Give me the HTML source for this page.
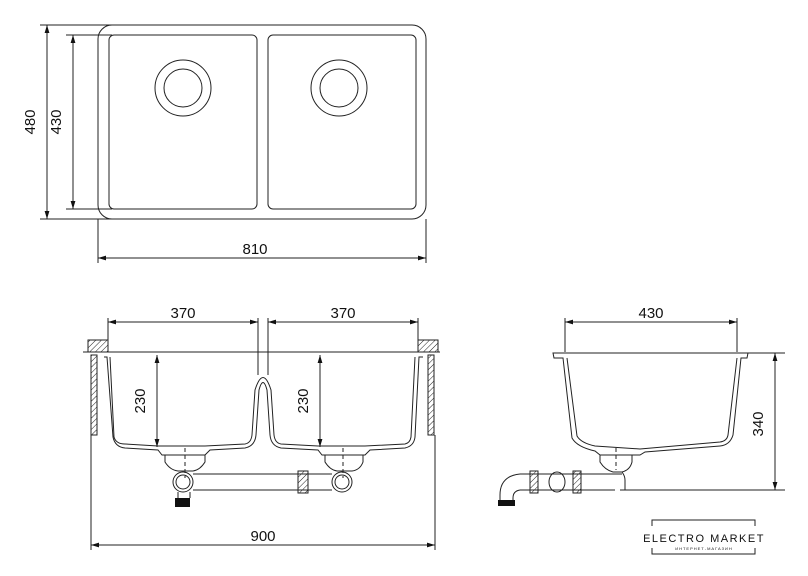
<!DOCTYPE html>
<html><head><meta charset="utf-8"><style>
html,body{margin:0;padding:0;background:#fff}
svg{display:block}
text{font-family:"Liberation Sans",sans-serif;fill:#111}
</style></head><body>
<svg width="808" height="576" viewBox="0 0 808 576" xmlns="http://www.w3.org/2000/svg">
<defs>
<pattern id="h" width="4" height="4" patternUnits="userSpaceOnUse" patternTransform="rotate(45)">
<line x1="0" y1="0" x2="0" y2="4" stroke="#222" stroke-width="1"/></pattern>
<marker id="a" viewBox="0 0 10 10" refX="10" refY="5" markerWidth="8" markerHeight="8" orient="auto-start-reverse"><path d="M0,2 L10,5 L0,8z" fill="#111"/></marker>
</defs>
<g fill="none" stroke="#222" stroke-width="1">
<!-- top view -->
<rect x="98" y="25" width="328" height="194" rx="14"/>
<rect x="109" y="35" width="148" height="174" rx="5"/>
<rect x="268" y="35" width="148" height="174" rx="5"/>
<circle cx="183" cy="88" r="28"/><circle cx="183" cy="88" r="19"/>
<circle cx="339" cy="88" r="28"/><circle cx="339" cy="88" r="19"/>
<line x1="40" y1="25" x2="112" y2="25"/><line x1="40" y1="219" x2="112" y2="219"/>
<line x1="66" y1="35" x2="112" y2="35"/><line x1="66" y1="209" x2="112" y2="209"/>
<line x1="47" y1="25" x2="47" y2="219" marker-start="url(#a)" marker-end="url(#a)"/>
<line x1="73" y1="35" x2="73" y2="209" marker-start="url(#a)" marker-end="url(#a)"/>
<line x1="98" y1="219" x2="98" y2="263"/><line x1="426" y1="219" x2="426" y2="263"/>
<line x1="98" y1="258" x2="426" y2="258" marker-start="url(#a)" marker-end="url(#a)"/>

<!-- front view -->
<line x1="83" y1="352" x2="440" y2="352"/>
<rect x="88" y="340" width="20" height="12" fill="url(#h)"/>
<rect x="418" y="340" width="20" height="12" fill="url(#h)"/>
<rect x="91" y="355" width="6" height="80" fill="url(#h)"/>
<rect x="428" y="355" width="6" height="80" fill="url(#h)"/>
<line x1="91" y1="435" x2="91" y2="550"/><line x1="435" y1="435" x2="435" y2="550"/>
<line x1="91" y1="545" x2="435" y2="545" marker-start="url(#a)" marker-end="url(#a)"/>
<line x1="108" y1="318" x2="108" y2="352"/><line x1="258" y1="318" x2="258" y2="375"/>
<line x1="268" y1="318" x2="268" y2="375"/><line x1="418" y1="318" x2="418" y2="352"/>
<line x1="108" y1="322" x2="258" y2="322" marker-start="url(#a)" marker-end="url(#a)"/>
<line x1="268" y1="322" x2="418" y2="322" marker-start="url(#a)" marker-end="url(#a)"/>
<path d="M104,357 L107,357 L113,437 Q115,447 125,448 L158,450 L162,455 L205,455 L210,450 L245,448 Q255,446 256,435 L259,390 Q263,375 267,390 L270,435 Q271,446 281,448 L318,450 L322,455 L365,455 L370,450 L405,448 Q414,446 415,437 L419,357 L423,357"/>
<path d="M110,357 L114,437 Q116,444 125,444 L158,446 L205,446 L245,444 Q251,443 252,435 L255,390 Q263,365 271,390 L274,435 Q275,443 281,444 L318,446 L365,446 L405,444 Q410,443 411,437 L415,357"/>
<line x1="157" y1="355" x2="157" y2="447" marker-start="url(#a)" marker-end="url(#a)"/>
<line x1="320" y1="355" x2="320" y2="447" marker-start="url(#a)" marker-end="url(#a)"/>
<path d="M165,455 L165,462 Q170,470 178,471 L193,471 Q200,470 205,462 L205,455"/>
<path d="M325,455 L325,462 Q330,470 337,471 L352,471 Q360,470 363,462 L363,455"/>
<circle cx="183" cy="482" r="10"/><circle cx="183" cy="482" r="7"/>
<circle cx="342" cy="482" r="10"/><circle cx="342" cy="482" r="7"/>
<line x1="193" y1="474" x2="332" y2="474"/><line x1="193" y1="490" x2="332" y2="490"/>
<rect x="298" y="471" width="10" height="22" fill="url(#h)"/>
<line x1="178" y1="492" x2="178" y2="498"/><line x1="190" y1="492" x2="190" y2="498"/>
<line x1="185" y1="448" x2="185" y2="478" stroke-dasharray="4,3"/>
<line x1="343" y1="448" x2="343" y2="478" stroke-dasharray="4,3"/>

<!-- side view -->
<line x1="565" y1="318" x2="565" y2="352"/><line x1="737" y1="318" x2="737" y2="352"/>
<line x1="565" y1="322" x2="737" y2="322" marker-start="url(#a)" marker-end="url(#a)"/>
<path d="M553,353 L748,353 L747,358 L741,358 L733,435 Q730,445 720,446 L645,452 L640,455 L600,455 L595,451 Q577,447 572,438 L563,358 L554,358 Z"/>
<path d="M567,358 L577,436 Q581,443 595,446 L640,449 L720,442 Q727,441 728,435 L737,358"/>
<line x1="740" y1="353" x2="785" y2="353"/><line x1="620" y1="490" x2="785" y2="490"/>
<line x1="775" y1="353" x2="775" y2="490" marker-start="url(#a)" marker-end="url(#a)"/>
<path d="M600,455 L600,462 Q605,470 613,472 L622,472 Q630,470 632,462 L632,455"/>
<line x1="616" y1="448" x2="616" y2="470" stroke-dasharray="4,3"/>
<path d="M622,472 Q625,476 625,480 L625,490"/>
<path d="M520,474 L622,474"/><path d="M520,490 L615,490"/>
<path d="M520,474 Q500,476 500,495 L500,502"/><path d="M520,490 Q513,491 513,498 L513,502"/>
<rect x="530" y="471" width="8" height="22" fill="url(#h)"/>
<rect x="573" y="471" width="8" height="22" fill="url(#h)"/>
<ellipse cx="557" cy="482" rx="8" ry="10"/>
<rect x="652" y="520" width="103" height="34" fill="#fff"/>
</g>
<rect x="175" y="498" width="15" height="9" fill="#111"/>
<rect x="498" y="500" width="17" height="6" fill="#111"/>
<rect x="650" y="526" width="108" height="22" fill="#fff"/>
<text x="35" y="122" font-size="15" text-anchor="middle" transform="rotate(-90 35 122)">480</text>
<text x="61" y="122" font-size="15" text-anchor="middle" transform="rotate(-90 61 122)">430</text>
<text x="255" y="254" font-size="15" text-anchor="middle">810</text>
<text x="183" y="318" font-size="15" text-anchor="middle">370</text>
<text x="343" y="318" font-size="15" text-anchor="middle">370</text>
<text x="145" y="401" font-size="15" text-anchor="middle" transform="rotate(-90 145 401)">230</text>
<text x="308" y="401" font-size="15" text-anchor="middle" transform="rotate(-90 308 401)">230</text>
<text x="263" y="541" font-size="15" text-anchor="middle">900</text>
<text x="651" y="318" font-size="15" text-anchor="middle">430</text>
<text x="763" y="424" font-size="15" text-anchor="middle" transform="rotate(-90 763 424)">340</text>
<text x="704" y="542" font-size="11" letter-spacing="1.5" text-anchor="middle">ELECTRO MARKET</text>
<text x="704" y="550" font-size="4" letter-spacing="1" text-anchor="middle" fill="#555">ИНТЕРНЕТ-МАГАЗИН</text>
</svg>
</body></html>
